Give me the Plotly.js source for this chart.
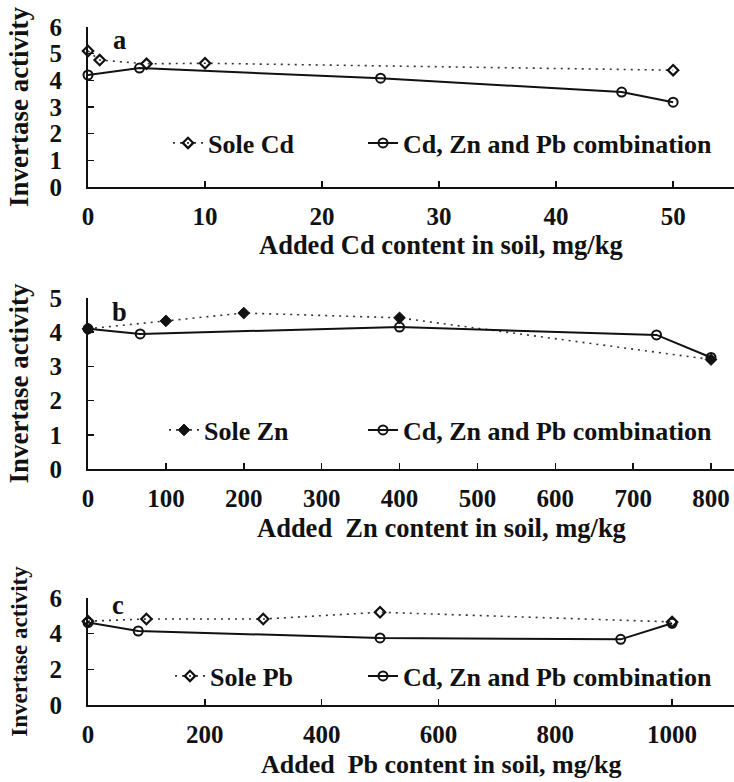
<!DOCTYPE html>
<html>
<head>
<meta charset="utf-8">
<script src="https://cdn.plot.ly/plotly-3.0.1.min.js"></script>
<style>html,body{margin:0;padding:0;background:#fff}</style>
</head>
<body>
<div id="chart" style="width:734px;height:782px"></div>
<script>
// Panel a: Cd
const soleCdX = [0, 1, 5, 10, 50];
const soleCdY = [5.1, 4.76, 4.62, 4.64, 4.38];
const comboCdX = [0, 4.4, 25, 45.6, 50];
const comboCdY = [4.2, 4.46, 4.08, 3.56, 3.18];
// Panel b: Zn
const soleZnX = [0, 100, 200, 400, 800];
const soleZnY = [4.1, 4.33, 4.56, 4.42, 3.2];
const comboZnX = [0, 67, 400, 730, 800];
const comboZnY = [4.1, 3.95, 4.15, 3.92, 3.26];
// Panel c: Pb
const solePbX = [0, 100, 300, 500, 1000];
const solePbY = [4.7, 4.82, 4.82, 5.2, 4.66];
const comboPbX = [0, 86, 500, 912, 1000];
const comboPbY = [4.62, 4.15, 3.76, 3.68, 4.58];

const legendNames = ["Sole Cd", "Sole Zn", "Sole Pb", "Cd, Zn and Pb combination"];
const xTitles = ["Added Cd content in soil, mg/kg", "Added  Zn content in soil, mg/kg", "Added  Pb content in soil, mg/kg"];
const yTitle = "Invertase activity";
const panelLabels = ["a", "b", "c"];

const FONT = "Liberation Serif";
const dotLine = {color: "#333", width: 1.6, dash: "2px,5px"};
const solidLine = {color: "#111", width: 2};
const circ = {symbol: "circle-open", size: 9, color: "#111", line: {width: 2, color: "#111"}};
const diaOpen = {symbol: "diamond-open", size: 8, color: "#111", line: {width: 2.2, color: "#111"}};
const diaFill = {symbol: "diamond", size: 9, color: "#111", line: {width: 1, color: "#111"}};

function sole(x, y, name, xa, ya, lg, mk) {
  return {x, y, name, xaxis: xa, yaxis: ya, legend: lg, type: "scatter", mode: "lines+markers",
          line: dotLine, marker: mk, cliponaxis: false};
}
function combo(x, y, xa, ya, lg) {
  return {x, y, name: legendNames[3], xaxis: xa, yaxis: ya, legend: lg, type: "scatter", mode: "lines+markers",
          line: solidLine, marker: circ, cliponaxis: false};
}

const data = [
  sole(soleCdX, soleCdY, legendNames[0], "x", "y", "legend", diaOpen),
  combo(comboCdX, comboCdY, "x", "y", "legend2"),
  sole(soleZnX, soleZnY, legendNames[1], "x2", "y2", "legend3", diaFill),
  combo(comboZnX, comboZnY, "x2", "y2", "legend4"),
  sole(solePbX, solePbY, legendNames[2], "x3", "y3", "legend5", diaOpen),
  combo(comboPbX, comboPbY, "x3", "y3", "legend6")
];

const H = 782, PW = 646, L = 88;
function fy(px) { return 1 - px / H; }
const tickFont = {family: FONT, size: 25, color: "#111", weight: 700};
const titleFont = {family: FONT, size: 26.5, color: "#111", weight: 700};

function xax(range, dtick, anchor) {
  return {anchor, domain: [0, 1], range, dtick, tick0: 0, ticks: "inside", ticklen: 6, tickwidth: 1.5,
          tickcolor: "#111", showline: true, linewidth: 2, linecolor: "#111", showgrid: false, zeroline: false,
          tickfont: tickFont, ticklabelstandoff: 6, automargin: false};
}
function yax(domain, range, dtick, anchor, tsize, st) {
  return {anchor, domain, range, dtick, tick0: 0, ticks: "inside", ticklen: 6, tickwidth: 1.5,
          tickcolor: "#111", showline: true, linewidth: 2, linecolor: "#111", showgrid: false, zeroline: false,
          tickfont: tickFont, ticklabelstandoff: 19, automargin: false,
          title: {text: yTitle, font: Object.assign({}, titleFont, {size: tsize}), standoff: st}};
}
function leg(xpx, ypx) {
  return {x: (xpx - L) / PW, y: fy(ypx), xanchor: "left", yanchor: "middle", orientation: "h",
          bgcolor: "rgba(0,0,0,0)", font: {family: FONT, size: 26, color: "#111", weight: 700},
          itemclick: false};
}
function xtitle(text, ypx, size) {
  return {xref: "paper", yref: "paper", x: (441 - L) / PW, y: fy(ypx), xanchor: "center", yanchor: "middle",
          text, showarrow: false, font: Object.assign({}, titleFont, {size})};
}

const layout = {
  width: 734, height: 782,
  margin: {l: L, r: 0, t: 0, b: 0},
  font: {family: FONT, color: "#111"},
  paper_bgcolor: "#fff", plot_bgcolor: "#fff",
  showlegend: true,
  xaxis: xax([0, 55.2], 10, "y"),
  yaxis: yax([fy(187), fy(27)], [0, 6], 1, "x", 27, 13),
  xaxis2: xax([0, 829.5], 100, "y2"),
  yaxis2: yax([fy(469), fy(298)], [0, 5], 1, "x2", 27, 13),
  xaxis3: xax([0, 1106], 200, "y3"),
  yaxis3: yax([fy(705), fy(598)], [0, 6], 2, "x3", 23, 15),
  legend: leg(168, 143),
  legend2: leg(363, 143),
  legend3: leg(164, 430),
  legend4: leg(363, 430),
  legend5: leg(170, 676),
  legend6: leg(363, 676),
  annotations: [
    xtitle(xTitles[0], 245, 26.5),
    xtitle(xTitles[1], 528, 26.5),
    xtitle(xTitles[2], 764, 26),
    {xref: "x", yref: "y", x: 2.7, y: 5.5, text: panelLabels[0], showarrow: false, font: titleFont},
    {xref: "x2", yref: "y2", x: 41, y: 4.6, text: panelLabels[1], showarrow: false, font: titleFont},
    {xref: "x3", yref: "y3", x: 51, y: 5.6, text: panelLabels[2], showarrow: false, font: titleFont}
  ]
};

Plotly.newPlot("chart", data, layout, {staticPlot: true, displayModeBar: false});
</script>
</body>
</html>
